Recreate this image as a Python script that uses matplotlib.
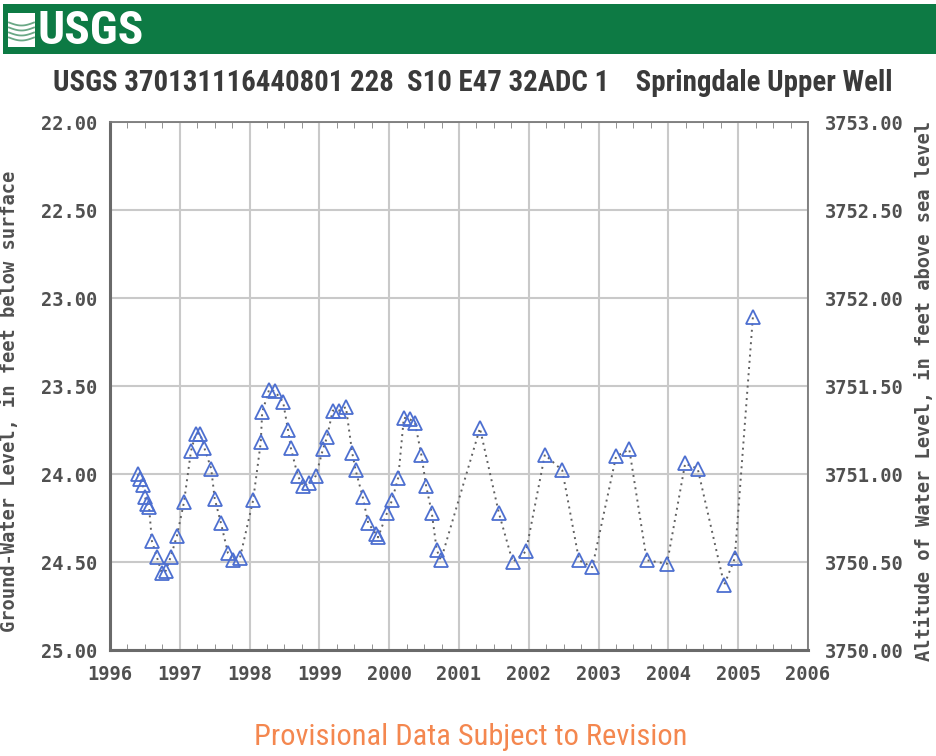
import matplotlib
matplotlib.use("Agg")
import matplotlib.pyplot as plt
from matplotlib import font_manager
from matplotlib.patches import Rectangle
from matplotlib.lines import Line2D
import numpy as np

# Field measurements: decimal year, depth to water (ft below land surface)
years = [1996.40, 1996.43, 1996.47, 1996.50, 1996.53, 1996.56, 1996.60, 1996.67,
         1996.74, 1996.80, 1996.87, 1996.96, 1997.06, 1997.16, 1997.23, 1997.29,
         1997.35, 1997.45, 1997.50, 1997.59, 1997.69, 1997.76, 1997.86, 1998.05,
         1998.16, 1998.18, 1998.28, 1998.36, 1998.48, 1998.55, 1998.59, 1998.69,
         1998.77, 1998.85, 1998.95, 1999.05, 1999.11, 1999.19, 1999.28, 1999.38,
         1999.47, 1999.52, 1999.62, 1999.70, 1999.81, 1999.84, 1999.97, 2000.04,
         2000.13, 2000.21, 2000.30, 2000.37, 2000.46, 2000.53, 2000.61, 2000.68,
         2000.74, 2001.30, 2001.57, 2001.77, 2001.96, 2002.23, 2002.48, 2002.72,
         2002.91, 2003.25, 2003.44, 2003.69, 2003.98, 2004.24, 2004.42, 2004.80,
         2004.95, 2005.21]
depth = [24.00, 24.03, 24.06, 24.13, 24.17, 24.19, 24.38, 24.47,
         24.56, 24.55, 24.47, 24.35, 24.16, 23.87, 23.77, 23.77,
         23.85, 23.97, 24.14, 24.28, 24.45, 24.49, 24.48, 24.15,
         23.82, 23.65, 23.52, 23.53, 23.59, 23.75, 23.85, 24.01,
         24.07, 24.05, 24.01, 23.86, 23.79, 23.64, 23.64, 23.62,
         23.88, 23.98, 24.13, 24.28, 24.34, 24.36, 24.22, 24.15,
         24.02, 23.68, 23.69, 23.71, 23.89, 24.07, 24.22, 24.43,
         24.49, 23.74, 24.22, 24.50, 24.44, 23.89, 23.98, 24.49,
         24.53, 23.90, 23.86, 24.49, 24.51, 23.94, 23.97, 24.63,
         24.48, 23.11]

land_surface = 3775.0
left_ticks = [22.0, 22.5, 23.0, 23.5, 24.0, 24.5, 25.0]
year_ticks = list(range(1996, 2007))

title = "USGS 370131116440801 228  S10 E47 32ADC 1    Springdale Upper Well"
footer = "Provisional Data Subject to Revision"

# pick a condensed face if one is installed
names = {f.name for f in font_manager.fontManager.ttflist}
narrow = "Liberation Sans"
for cand in ["Liberation Sans Narrow", "Roboto Condensed", "Open Sans Condensed", "Arial Narrow"]:
    if cand in names:
        narrow = cand
        break
mono = "DejaVu Sans Mono"
label_col = "#505050"

W, H = 936, 756
fig = plt.figure(figsize=(W / 100, H / 100), dpi=100)
renderer = fig.canvas.get_renderer()


def fit_text(x, y, s, width_px, size, **kw):
    # shrink/grow the font so the string spans the given pixel width
    t = fig.text(x / W, 1 - y / H, s, fontsize=size, **kw)
    w = t.get_window_extent(renderer=renderer).width
    t.set_fontsize(size * width_px / w)
    return t


# green header band with logo
fig.add_artist(Rectangle((0.003, 1 - 54 / H), 0.997, 50 / H, transform=fig.transFigure,
                         facecolor="#0d7a44", edgecolor="none"))
fig.add_artist(Rectangle((8 / W, 1 - 47 / H), 27 / W, 34 / H, transform=fig.transFigure,
                         facecolor="white", edgecolor="none"))
for k in range(4):
    xs = np.linspace(9, 34, 20)
    ys = 30 + (k - 1.5) * 5 + 3 * np.sin((xs - 9) / 25 * np.pi)
    fig.add_artist(Line2D(xs / W, 1 - ys / H, transform=fig.transFigure,
                          color="#6aa886", linewidth=1.3))
fit_text(38, 31, "USGS", 106, 30, color="white", fontweight="bold", family=narrow,
         ha="left", va="center")

fit_text(473, 83, title, 838, 18, color="#3a3a3a", fontweight="bold", family=narrow,
         ha="center", va="center")
fit_text(471, 737, footer, 433, 18, color="#f4874f", family=narrow,
         ha="center", va="center")

ax = fig.add_axes([110 / W, 1 - 650 / H, 698 / W, 528 / H])
ax.plot(years, depth, linestyle=(0, (1, 2.2)), color="#606060", linewidth=1.4,
        marker="^", markersize=10, markerfacecolor="none", markeredgecolor="#4d6fd0",
        markeredgewidth=1.3, zorder=3)

ax.set_xlim(1996, 2006)
ax.set_ylim(25, 22)
ax.set_xticks(year_ticks)
ax.set_xticks(np.arange(1996, 2006.01, 0.25), minor=True)
ax.set_yticks(left_ticks)
ax.set_yticklabels([f"{v:.2f}" for v in left_ticks])
ax.grid(True, which="major", color="#c9c9c9", linewidth=1.5)
ax.set_axisbelow(True)
ax.tick_params(axis="x", which="major", length=0, pad=11, labelsize=13.5, labelcolor=label_col)
ax.tick_params(axis="x", which="minor", direction="in", length=4, top=True, bottom=True,
               color="#808080")
ax.tick_params(axis="y", which="major", length=0, pad=9, labelsize=13.5, labelcolor=label_col)
for lab in ax.get_xticklabels() + ax.get_yticklabels():
    lab.set_family(mono)
    lab.set_fontweight("bold")
for side in ["left", "bottom"]:
    ax.spines[side].set_color("#6a6a6a")
    ax.spines[side].set_linewidth(2.2)
for side in ["top", "right"]:
    ax.spines[side].set_color("#7a7a7a")
    ax.spines[side].set_linewidth(1.3)

ax.set_ylabel("Ground-Water Level, in feet below surface", family=mono, fontweight="bold",
              fontsize=13.5, color=label_col)
ax.yaxis.set_label_coords(-91 / 698, 0.47)

ax2 = ax.twinx()
ax2.set_ylim(land_surface - 25, land_surface - 22)
right_ticks = [land_surface - v for v in left_ticks]
ax2.set_yticks(right_ticks)
ax2.set_yticklabels([f"{v:.2f}" for v in right_ticks])
ax2.tick_params(axis="y", length=0, pad=12, labelsize=13.5, labelcolor=label_col)
for lab in ax2.get_yticklabels():
    lab.set_family(mono)
    lab.set_fontweight("bold")
for s in ax2.spines.values():
    s.set_visible(False)
ax2.set_ylabel("Altitude of Water Level, in feet above sea level", family=mono,
               fontweight="bold", fontsize=13.5, color=label_col, rotation=90, va="center")
ax2.yaxis.set_label_coords(1 + 116 / 698, 0.49)

fig.savefig("out.png", dpi=100)
